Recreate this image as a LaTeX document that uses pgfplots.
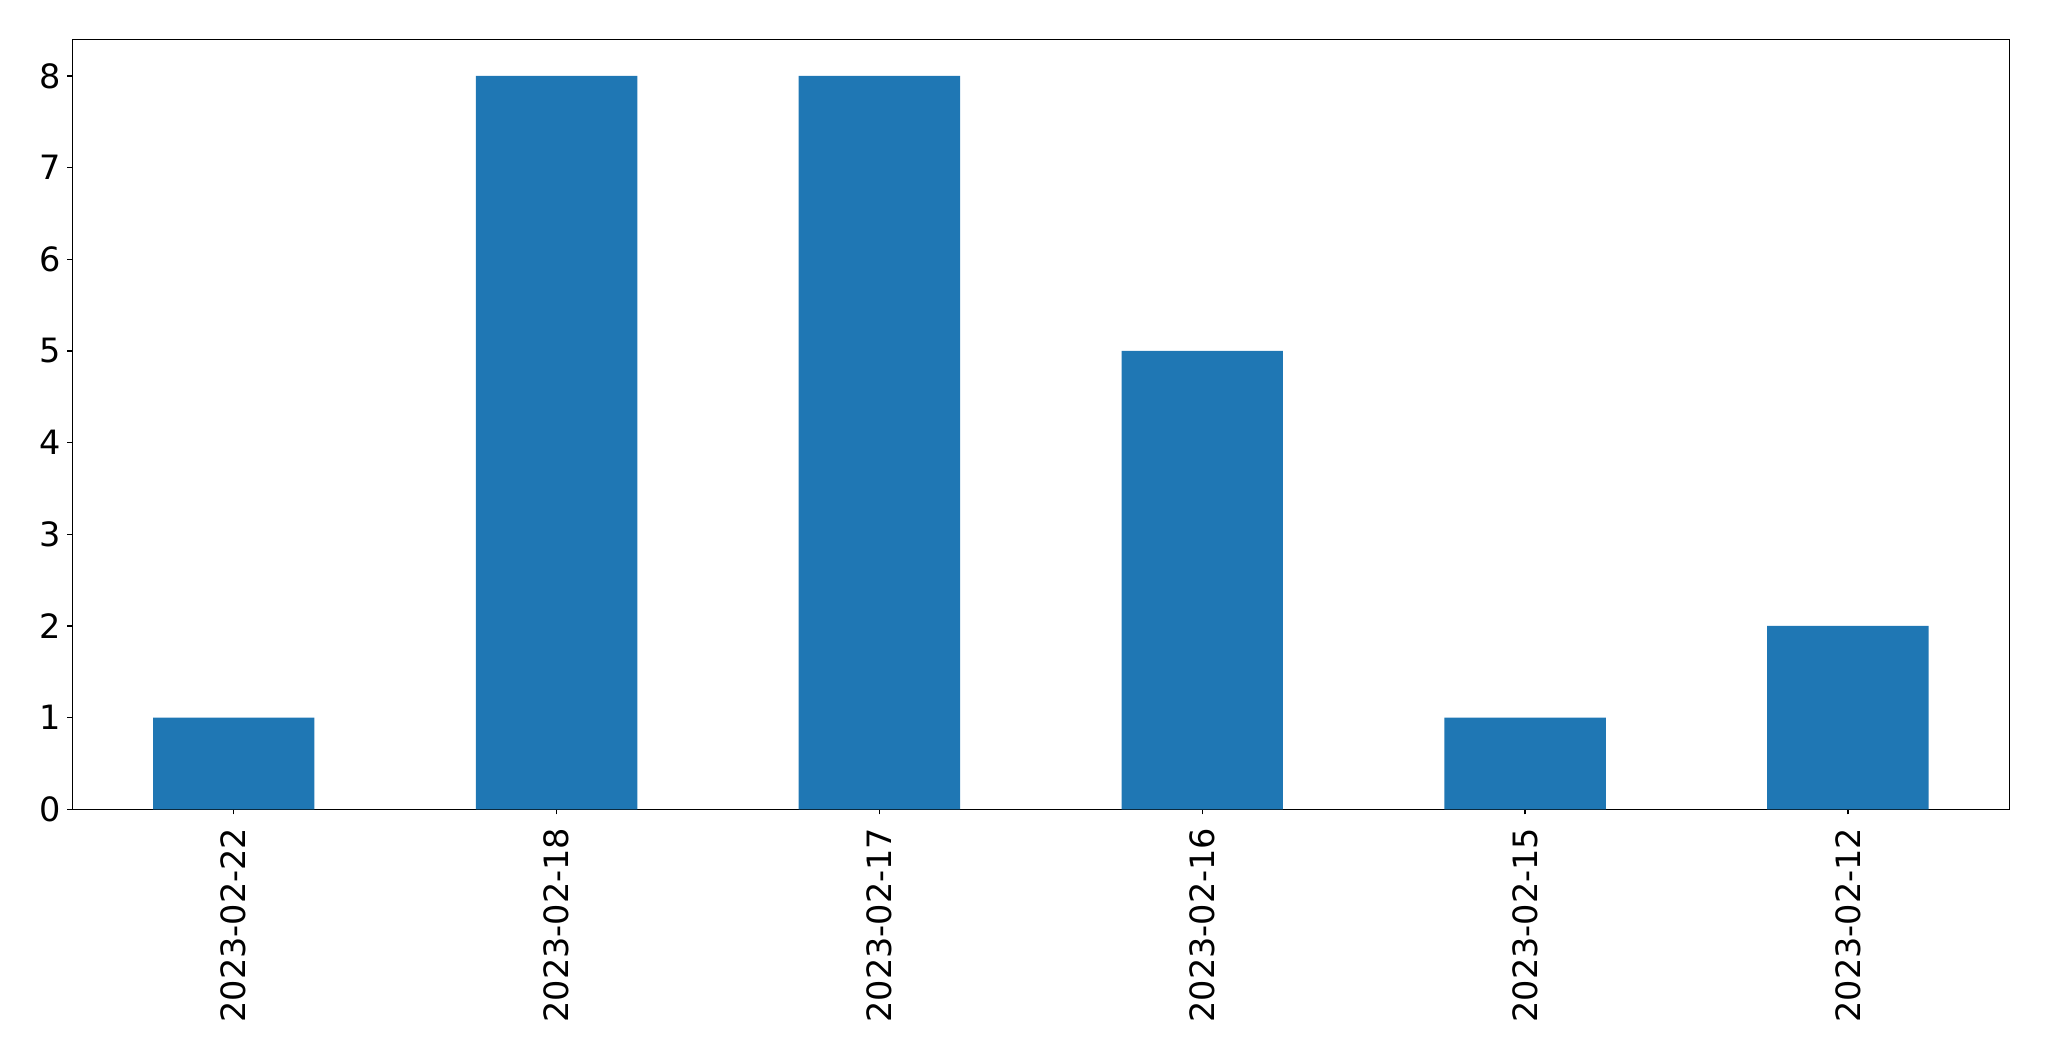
\documentclass[border=0pt]{standalone}
\usepackage{pgfplots}
\pgfplotsset{compat=1.18}
\usepackage{fontspec}
\setmainfont{DejaVu Sans}
\definecolor{tabblue}{HTML}{1F77B4}
\begin{document}
\begin{tikzpicture}
\fontsize{16.75bp}{20bp}\selectfont
\begin{axis}[
  name=ax,
  at={(0,0)}, anchor=south west,
  scale only axis,
  width=968.5bp, height=385bp,
  xmin=-0.5, xmax=5.5,
  ymin=0, ymax=8.4,
  ybar, bar width=0.5, bar shift=0pt,
  xtick={0,1,2,3,4,5},
  xticklabels={2023-02-22,2023-02-18,2023-02-17,2023-02-16,2023-02-15,2023-02-12},
  ytick={0,1,2,3,4,5,6,7,8},
  tick pos=left,
  tick align=outside,
  major tick length=2.6bp,
  axis line style={line width=0.6bp},
  tick style={line width=0.6bp, black},
  /pgf/number format/assume math mode=true,
  ticklabel style={font=\fontsize{16.75bp}{20bp}\selectfont},
  xticklabel style={rotate=90, anchor=east, inner sep=0pt, yshift=0pt, xshift=-6.4bp},
  yticklabel style={anchor=east, inner sep=0pt, xshift=-3bp},
  axis on top=false,
]
\addplot[fill=tabblue, draw=none] coordinates {(0,1) (1,8) (2,8) (3,5) (4,1) (5,2)};
\end{axis}
\path (ax.south west) ++(-36.15bp,-126bp) coordinate (bl);
\path (ax.north east) ++(19.85bp,19.65bp) coordinate (tr);
\path (bl) rectangle (tr);
\end{tikzpicture}
\end{document}
